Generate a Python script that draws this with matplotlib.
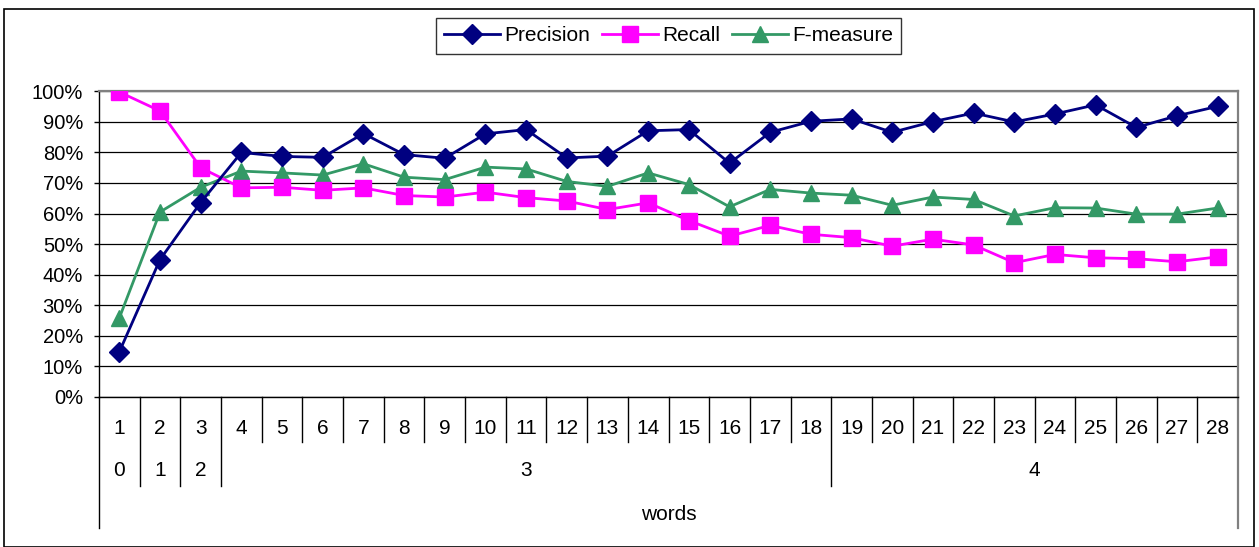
import matplotlib
matplotlib.use("Agg")
import matplotlib.pyplot as plt
from matplotlib.patches import Rectangle
from matplotlib.transforms import blended_transform_factory

plt.rcParams["font.family"] = ["Liberation Sans", "DejaVu Sans"]

# ---------------------------------------------------------------------
# Data
# ---------------------------------------------------------------------
word_labels = [str(i) for i in range(1, 29)]
group_labels = ["0", "1", "2", "3", "4"]
group_sizes = [1, 1, 1, 15, 10]
axis_title = "words"

precision = [14.7, 44.9, 63.6, 80.0, 78.7, 78.4, 86.2, 79.3, 78.1, 86.1,
             87.5, 78.2, 78.8, 87.1, 87.5, 76.5, 86.6, 90.2, 91.0, 86.6,
             90.1, 92.9, 90.0, 92.6, 95.6, 88.2, 92.0, 95.1]
recall = [99.8, 93.6, 75.0, 68.4, 68.6, 67.6, 68.4, 65.9, 65.4, 67.0,
          65.2, 64.1, 61.3, 63.5, 57.7, 52.6, 56.1, 53.2, 52.1, 49.3,
          51.6, 49.7, 43.9, 46.6, 45.5, 45.2, 44.2, 45.8]
fmeasure = [25.8, 60.5, 68.6, 73.9, 73.3, 72.6, 76.3, 71.9, 71.1, 75.2,
            74.6, 70.5, 68.9, 73.3, 69.5, 62.2, 67.9, 66.7, 66.0, 62.7,
            65.4, 64.6, 59.2, 61.9, 61.8, 59.8, 59.8, 61.8]

W, H = 1259, 547
fig = plt.figure(figsize=(W / 100, H / 100), dpi=100)

left, right, top, bottom = 99, 1238, 91.4, 396.7
ax = fig.add_axes([left / W, 1 - bottom / H, (right - left) / W, (bottom - top) / H])

x = list(range(1, len(word_labels) + 1))
ax.plot(x, precision, color="#000080", lw=2, marker="D", ms=10, label="Precision", zorder=5)
ax.plot(x, recall, color="#FF00FF", lw=2, marker="s", ms=11, label="Recall", zorder=4)
ax.plot(x, fmeasure, color="#339966", lw=2, marker="^", ms=12, label="F-measure", zorder=3)

ax.set_xlim(0.5, len(x) + 0.5)
ax.set_ylim(0, 100)
ax.set_yticks(range(0, 101, 10))
ax.set_yticklabels([f"{v}%" for v in range(0, 101, 10)], fontsize=14.5)
ax.tick_params(axis="y", direction="out", length=3.5, width=1, pad=8, colors="black")
ax.set_xticks([])
ax.grid(axis="y", color="black", lw=0.9)
ax.set_axisbelow(True)

for side in ("top", "right"):
    ax.spines[side].set_color("#808080")
    ax.spines[side].set_linewidth(1.6)
for side in ("left", "bottom"):
    ax.spines[side].set_color("black")
    ax.spines[side].set_linewidth(1.0)

# multi-level category axis
tr = blended_transform_factory(ax.transData, ax.transAxes)
px = 1.0 / (bottom - top)
y_row1 = -(428 - bottom) * px
y_row2 = -(470.7 - bottom) * px
y_title = -(514 - bottom) * px
y_inner = -(442 - bottom) * px
y_group = -(486 - bottom) * px
y_edge = -(528 - bottom) * px

for xi, lab in zip(x, word_labels):
    ax.text(xi, y_row1, lab, transform=tr, ha="center", va="center", fontsize=15)

bounds = []
start = 0.5
for lab, n in zip(group_labels, group_sizes):
    ax.text(start + n / 2, y_row2, lab, transform=tr, ha="center", va="center", fontsize=15)
    start += n
    bounds.append(start)

group_edges = set(bounds[:-1])
for k in range(1, len(x)):
    xb = k + 0.5
    yb = y_group if xb in group_edges else y_inner
    ax.plot([xb, xb], [0, yb], transform=tr, color="black", lw=1, clip_on=False)

ax.plot([0.5, 0.5], [0, y_edge], transform=tr, color="black", lw=1, clip_on=False)
ax.plot([len(x) + 0.5] * 2, [0, y_edge], transform=tr, color="#808080", lw=1.6, clip_on=False)
ax.text(0.5, y_title, axis_title, transform=ax.transAxes, ha="center", va="center", fontsize=15)

# legend
leg = fig.legend(loc="upper center", bbox_to_anchor=(668.5 / W, 1 - 18 / H), ncol=3,
                 fontsize=15, frameon=True, fancybox=False, handlelength=2.7,
                 handletextpad=0.2, columnspacing=0.55, borderpad=0.4, borderaxespad=0)
leg.get_frame().set_edgecolor("black")
leg.get_frame().set_linewidth(1.0)

# chart area border
fig.patches.append(Rectangle((4 / W, 0), (1254 - 4) / W, 1 - 9 / H, transform=fig.transFigure,
                             fill=False, edgecolor="black", lw=1.2))

fig.savefig("out.png", dpi=100)
